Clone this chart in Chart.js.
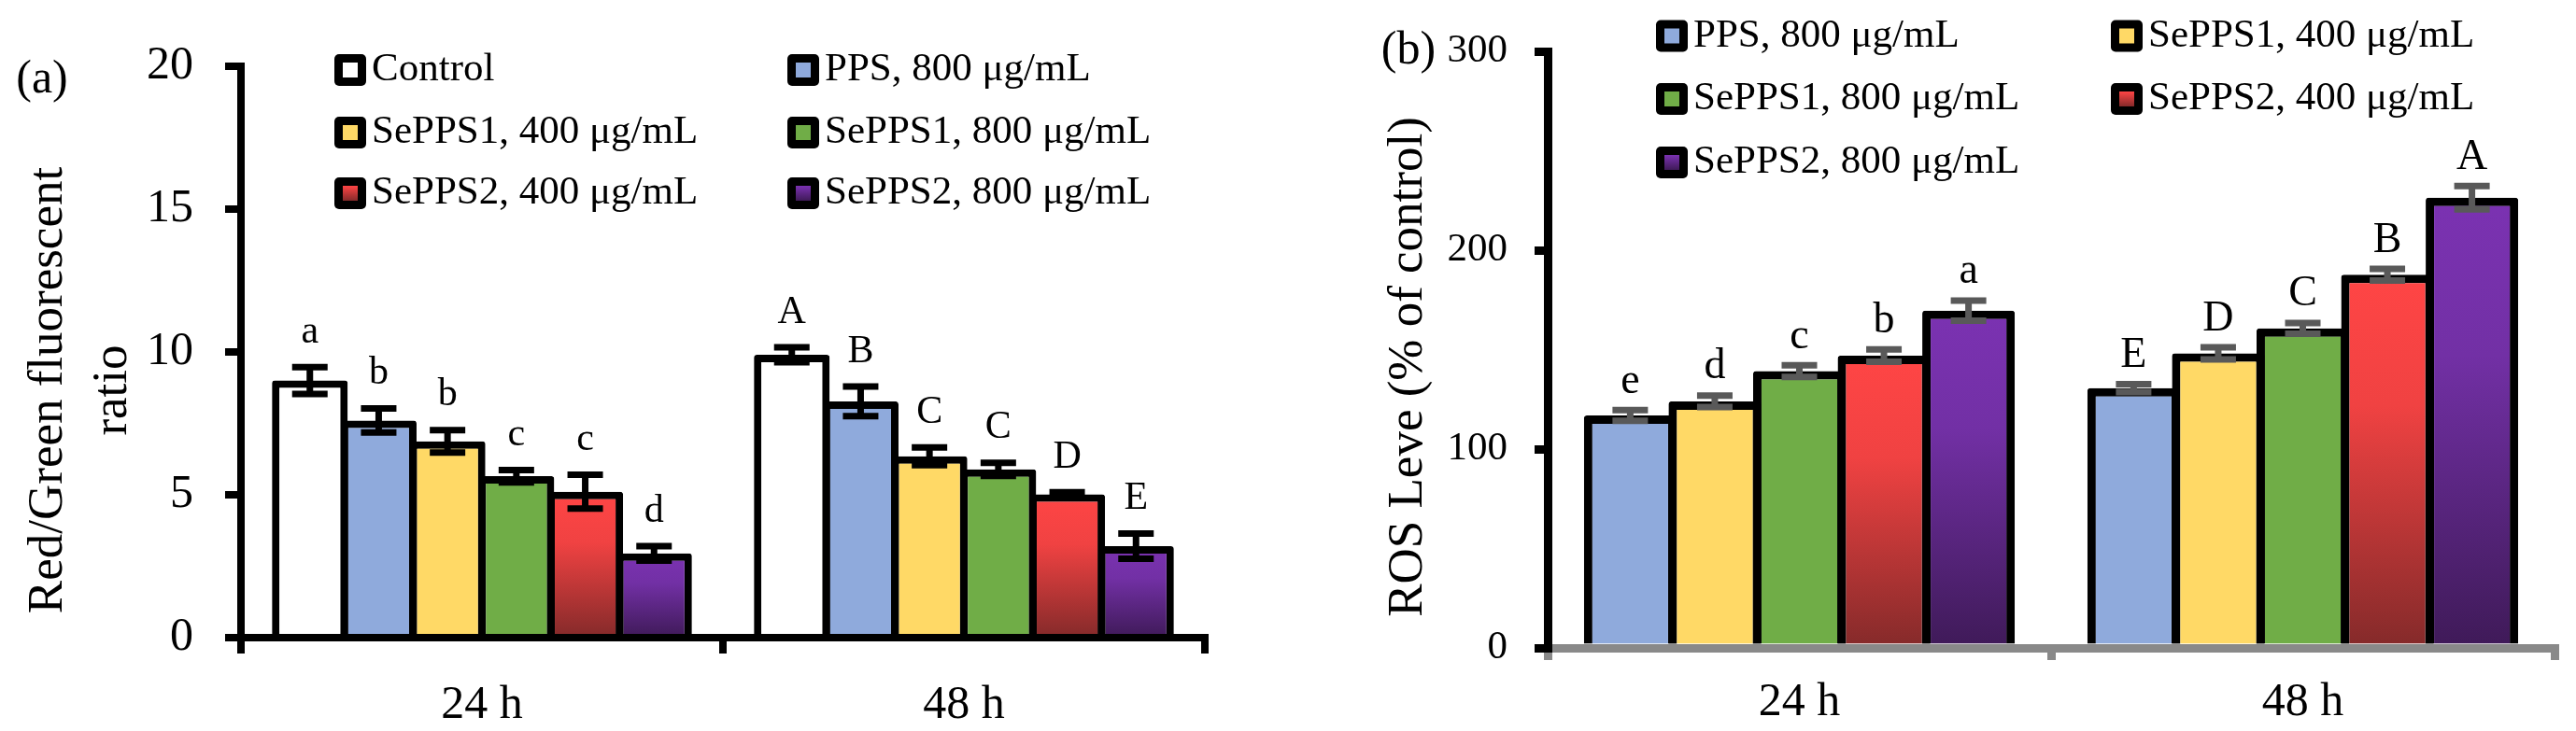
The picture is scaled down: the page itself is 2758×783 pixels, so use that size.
<!DOCTYPE html>
<html>
<head>
<meta charset="utf-8">
<script src="https://cdn.jsdelivr.net/npm/chart.js@4.4.1/dist/chart.umd.min.js"></script>
<style>
  html, body { margin: 0; padding: 0; background: #fff; }
  body { width: 2758px; height: 783px; position: relative; overflow: hidden; }
  canvas { position: absolute; top: 0; }
  #chartA { left: 0; }
  #chartB { left: 1400px; }
</style>
</head>
<body>
<canvas id="chartA" width="1400" height="783"></canvas>
<canvas id="chartB" width="1358" height="783"></canvas>
<script>
const times = ['24 h', '48 h'];

// (a) red/green fluorescent ratio
const ratioTicks = [0, 5, 10, 15, 20];
const ratioControl = [9.0, 9.9];
const ratioControlErr = [0.47, 0.26];
const ratioPPS = [7.6, 8.27];
const ratioPPSErr = [0.42, 0.52];
const ratioS1Low = [6.87, 6.35];
const ratioS1LowErr = [0.39, 0.31];
const ratioS1High = [5.65, 5.89];
const ratioS1HighErr = [0.22, 0.23];
const ratioS2Low = [5.11, 5.02];
const ratioS2LowErr = [0.59, 0.07];
const ratioS2High = [2.95, 3.2];
const ratioS2HighErr = [0.25, 0.44];

// (b) ROS level, % of control
const rosTicks = [0, 100, 200, 300];
const rosPPS = [116.9, 130.6];
const rosPPSErr = [2.7, 2.0];
const rosS1Low = [124.0, 148.1];
const rosS1LowErr = [2.9, 3.05];
const rosS1High = [139.2, 160.7];
const rosS1HighErr = [2.9, 2.7];
const rosS2Low = [147.0, 187.7];
const rosS2LowErr = [3.1, 2.9];
const rosS2High = [169.6, 226.4];
const rosS2HighErr = [5.1, 5.9];

const FONT = "'Liberation Serif', 'Times New Roman', serif";
const RED = ['#FF4545', '#F04242', '#842A2A'];
const PURPLE = ['#7B32B2', '#7230A5', '#3F1A58'];

Chart.defaults.font.family = FONT;
Chart.defaults.color = '#000';

// vertical fade over the height of each bar
function shade(stops) {
    return function (ctx) {
        const chart = ctx.chart;
        if (!chart.chartArea || !ctx.parsed) return stops[0];
        const y = chart.scales.y;
        const top = y.getPixelForValue(ctx.parsed.y);
        const bottom = y.getPixelForValue(0);
        const g = chart.ctx.createLinearGradient(0, top, 0, bottom);
        g.addColorStop(0, stops[0]);
        g.addColorStop(0.35, stops[1]);
        g.addColorStop(1, stops[2]);
        return g;
    };
}

function series(label, data, errors, letters, fill, border) {
    return {
        label: label,
        data: data,
        errors: errors,
        letters: letters,
        swatch: fill,
        backgroundColor: Array.isArray(fill) ? shade(fill) : fill,
        borderColor: '#000',
        borderWidth: border,
        borderSkipped: 'start',
        borderRadius: 3
    };
}

const figureText = {
    id: 'figureText',
    afterDatasetsDraw(chart, args, o) {
        const ctx = chart.ctx;
        const y = chart.scales.y;
        ctx.save();
        chart.data.datasets.forEach((ds, i) => {
            chart.getDatasetMeta(i).data.forEach((bar, j) => {
                const hi = y.getPixelForValue(ds.data[j] + ds.errors[j]);
                const lo = y.getPixelForValue(ds.data[j] - ds.errors[j]);
                ctx.strokeStyle = o.errColor;
                ctx.lineWidth = o.errWidth;
                ctx.beginPath();
                ctx.moveTo(bar.x, hi); ctx.lineTo(bar.x, lo);
                ctx.moveTo(bar.x - o.capHalf, hi); ctx.lineTo(bar.x + o.capHalf, hi);
                ctx.moveTo(bar.x - o.capHalf, lo); ctx.lineTo(bar.x + o.capHalf, lo);
                ctx.stroke();
                ctx.fillStyle = '#000';
                ctx.font = o.letterSize + 'px ' + FONT;
                ctx.textAlign = 'center';
                ctx.textBaseline = 'alphabetic';
                ctx.fillText(ds.letters[j], bar.x, hi - o.errWidth / 2 - o.letterGap);
            });
        });
        ctx.restore();
    },
    afterDraw(chart, args, o) {
        const ctx = chart.ctx;
        ctx.save();
        ctx.fillStyle = '#000';
        ctx.textBaseline = 'middle';

        // panel tag
        ctx.font = '50px ' + FONT;
        ctx.textAlign = 'center';
        ctx.fillText(o.tag, o.tagX, o.tagY);

        // y axis title
        ctx.font = o.titleSize + 'px ' + FONT;
        o.title.forEach((line, k) => {
            ctx.save();
            ctx.translate(o.titleX[k], o.titleY);
            ctx.rotate(-Math.PI / 2);
            ctx.fillText(line, 0, 0);
            ctx.restore();
        });

        // legend, two columns, row by row
        ctx.font = o.legendSize + 'px ' + FONT;
        ctx.textAlign = 'left';
        chart.data.datasets.forEach((ds, i) => {
            const mx = o.legendCols[i % 2];
            const my = o.legendRows[Math.floor(i / 2)];
            ctx.fillStyle = '#000';
            ctx.beginPath();
            ctx.roundRect(mx, my - 17, 34, 34, 5);
            ctx.fill();
            if (Array.isArray(ds.swatch)) {
                const g = ctx.createLinearGradient(0, my - 8, 0, my + 8);
                g.addColorStop(0, ds.swatch[0]);
                g.addColorStop(1, ds.swatch[2]);
                ctx.fillStyle = g;
            } else {
                ctx.fillStyle = ds.swatch;
            }
            ctx.fillRect(mx + 9, my - 8, 16, 16);
            ctx.fillStyle = '#000';
            ctx.fillText(ds.label, mx + 40, my);
        });
        ctx.restore();
    }
};

function makeChart(id, datasets, cfg) {
    return new Chart(document.getElementById(id), {
        type: 'bar',
        data: { labels: times, datasets: datasets },
        plugins: [figureText],
        options: {
            responsive: false,
            animation: false,
            devicePixelRatio: 1,
            categoryPercentage: cfg.catPct,
            barPercentage: cfg.barPct,
            layout: { padding: cfg.padding },
            plugins: {
                legend: { display: false },
                tooltip: { enabled: false },
                figureText: cfg.text
            },
            scales: {
                x: {
                    z: 1,
                    afterFit: s => { s.height = cfg.xHeight; },
                    grid: {
                        drawOnChartArea: false,
                        color: cfg.xColor,
                        lineWidth: cfg.axisWidth,
                        tickLength: cfg.xTick
                    },
                    border: { color: cfg.xColor, width: cfg.axisWidth },
                    ticks: { font: { size: 50 }, padding: cfg.xPad, color: '#000' }
                },
                y: {
                    z: 2,
                    min: cfg.ticks[0],
                    max: cfg.ticks[cfg.ticks.length - 1],
                    afterFit: s => { s.width = cfg.yWidth; },
                    afterBuildTicks: s => { s.ticks = cfg.ticks.map(v => ({ value: v })); },
                    grid: {
                        drawOnChartArea: false,
                        color: '#000',
                        lineWidth: cfg.axisWidth,
                        tickLength: cfg.yTick
                    },
                    border: { color: '#000', width: cfg.axisWidth },
                    ticks: { font: { size: cfg.yFont }, padding: cfg.yPad, color: '#000' }
                }
            }
        }
    });
}

makeChart('chartA', [
    series('Control', ratioControl, ratioControlErr, ['a', 'A'], '#FFFFFF', 8),
    series('PPS, 800 μg/mL', ratioPPS, ratioPPSErr, ['b', 'B'], '#8FAADC', 8),
    series('SePPS1, 400 μg/mL', ratioS1Low, ratioS1LowErr, ['b', 'C'], '#FFD966', 8),
    series('SePPS1, 800 μg/mL', ratioS1High, ratioS1HighErr, ['c', 'C'], '#70AD47', 8),
    series('SePPS2, 400 μg/mL', ratioS2Low, ratioS2LowErr, ['c', 'D'], RED, 8),
    series('SePPS2, 800 μg/mL', ratioS2High, ratioS2HighErr, ['d', 'E'], PURPLE, 8)
], {
    ticks: ratioTicks,
    catPct: 0.857, barPct: 1.1,
    padding: { top: 71, right: 110, left: 0, bottom: 0 },
    xHeight: 100, yWidth: 258,
    axisWidth: 8, xColor: '#000', xTick: 17, yTick: 17,
    xPad: 26, yPad: 34, yFont: 50,
    text: {
        errColor: '#000', errWidth: 7, capHalf: 19,
        letterSize: 42, letterGap: 23,
        tag: '(a)', tagX: 45, tagY: 86,
        title: ['Red/Green fluorescent', 'ratio'], titleSize: 53,
        titleX: [52, 121], titleY: 418,
        legendSize: 43, legendCols: [358, 843], legendRows: [75, 142, 207]
    }
});

makeChart('chartB', [
    series('PPS, 800 μg/mL', rosPPS, rosPPSErr, ['e', 'E'], '#8FAADC', 9),
    series('SePPS1, 400 μg/mL', rosS1Low, rosS1LowErr, ['d', 'D'], '#FFD966', 9),
    series('SePPS1, 800 μg/mL', rosS1High, rosS1HighErr, ['c', 'C'], '#70AD47', 9),
    series('SePPS2, 400 μg/mL', rosS2Low, rosS2LowErr, ['b', 'B'], RED, 9),
    series('SePPS2, 800 μg/mL', rosS2High, rosS2HighErr, ['a', 'A'], PURPLE, 9)
], {
    ticks: rosTicks,
    catPct: 0.84, barPct: 1.094,
    padding: { top: 55, right: 23, left: 0, bottom: 0 },
    xHeight: 89, yWidth: 257,
    axisWidth: 9, xColor: '#898989', xTick: 13, yTick: 14,
    xPad: 16, yPad: 29, yFont: 43,
    text: {
        errColor: '#595959', errWidth: 7, capHalf: 19,
        letterSize: 46, letterGap: 15,
        tag: '(b)', tagX: 108, tagY: 55,
        title: ['ROS Leve (% of control)'], titleSize: 53,
        titleX: [108], titleY: 393,
        legendSize: 43, legendCols: [373, 860], legendRows: [38.5, 106, 174]
    }
});
</script>
</body>
</html>
